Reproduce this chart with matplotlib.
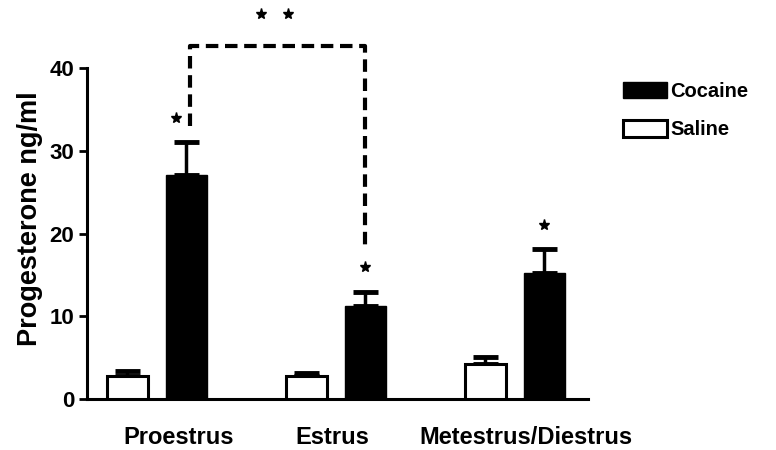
import matplotlib
matplotlib.use("Agg")
import matplotlib.pyplot as plt
import numpy as np

plt.rcParams['font.family'] = ['Liberation Sans', 'DejaVu Sans']
plt.rcParams['font.weight'] = 'bold'

phases = ["Proestrus", "Estrus", "Metestrus/Diestrus"]
saline = [2.8, 2.8, 4.3]
saline_err = [0.6, 0.4, 0.8]
cocaine = [27.1, 11.3, 15.2]
cocaine_err = [4.0, 1.7, 2.9]
cocaine_sig = [True, True, True]
yticks = [0, 10, 20, 30, 40]

x = np.arange(len(phases))
w = 0.23
off = 0.165

fig = plt.figure(figsize=(7.76, 4.5), dpi=100)
ax = fig.add_axes([0.112, 0.113, 0.646, 0.736])

ax.bar(x - off, saline, w, color='white', edgecolor='black', linewidth=2.2,
       label='Saline', zorder=3)
ax.bar(x + off, cocaine, w, color='black', edgecolor='black', linewidth=1,
       label='Cocaine', zorder=3)
ax.errorbar(x - off, saline, yerr=[np.zeros(3), saline_err], fmt='none',
            ecolor='black', elinewidth=2.5, capsize=9, capthick=3.5, zorder=2)
ax.errorbar(x + off, cocaine, yerr=[np.zeros(3), cocaine_err], fmt='none',
            ecolor='black', elinewidth=2.5, capsize=9, capthick=3.5, zorder=2)

# significance stars above cocaine bars
for i in range(len(phases)):
    if cocaine_sig[i]:
        ax.plot(x[i] + off - 0.06 * (i == 0), cocaine[i] + cocaine_err[i] + 2.9,
                marker='*', color='black', markersize=8, clip_on=False)

# bracket between proestrus and estrus cocaine
top = 42.6
ax.plot([x[0] + off + 0.02, x[0] + off + 0.02, x[1] + off, x[1] + off],
        [33.0, top, top, cocaine[1] + cocaine_err[1] + 4.9],
        color='black', linestyle=(0, (3, 1.6)), linewidth=3, clip_on=False)
mid = (x[0] + x[1]) / 2 + off
for dx in [-0.08, 0.07]:
    ax.plot(mid + dx, 46.5, marker='*', color='black', markersize=8, clip_on=False)

ax.set_ylim(0, 40)
ax.set_xlim(-0.39, 2.41)
ax.set_yticks(yticks)
ax.set_yticklabels([str(t) for t in yticks], fontsize=16, fontweight='bold')
ax.set_xticks([])
lab_shift = [0.12, -0.02, 0.06]
for i, p in enumerate(phases):
    ax.text(x[i] + lab_shift[i], -4.6, p, ha='center', va='center',
            fontsize=17, fontweight='bold')
ax.set_ylabel("Progesterone ng/ml", fontsize=19.5, fontweight='bold')
ax.yaxis.set_label_coords(-0.088, 0.545)

ax.spines['top'].set_visible(False)
ax.spines['right'].set_visible(False)
ax.spines['left'].set_linewidth(2.2)
ax.spines['bottom'].set_linewidth(2.2)
ax.tick_params(axis='y', direction='out', length=6, width=2, pad=3)

handles, labels = ax.get_legend_handles_labels()
ax.legend(handles[::-1], labels[::-1], loc='upper left', bbox_to_anchor=(0.792, 0.835),
          bbox_transform=fig.transFigure, frameon=False, fontsize=14.5,
          handlelength=2.2, handleheight=0.85, handletextpad=0.15, labelspacing=0.95,
          borderaxespad=0)

fig.savefig("out.png", dpi=100)
